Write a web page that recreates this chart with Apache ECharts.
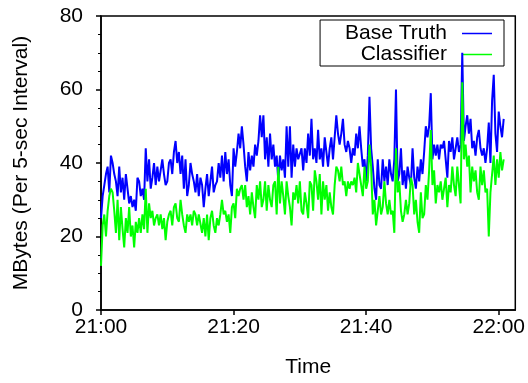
<!DOCTYPE html>
<html><head><meta charset="utf-8">
<script src="https://cdn.jsdelivr.net/npm/echarts@6/dist/echarts.min.js"></script>
<style>html,body{margin:0;padding:0;background:#fff}#c{width:528px;height:383px}</style>
</head><body><div id="c"></div>
<script>
// time axis: minutes after 21:00, one sample every 15 s
const stepMinutes = 0.25;
const xTickMinutes = [0, 20, 40, 60];
const xTickLabels = ['21:00', '21:20', '21:40', '22:00'];
const seriesNames = ['Base Truth', 'Classifier'];

const baseTruth = [
25,31,34,37,39,32,42,40,37,35,
31,39,32,36,30,37,33,29,31,28,
30,27,36,35,31,33,30,44,35,41,
33,36,40,34,39,35,38,41,37,34,
35,40,41,37,43,46,40,43,37,42,
33,41,31,34,40,37,35,32,37,31,
36,34,28,33,37,31,35,39,32,34,
35,40,36,42,35,43,37,41,34,31,
44,39,43,48,44,50,45,39,35,43,
38,42,39,45,42,46,53,47,53,41,
47,39,48,41,45,39,42,35,42,38,
41,36,50,39,50,36,45,39,44,41,
41,44,38,44,40,48,42,52,41,44,
40,49,41,44,39,47,43,39,44,47,
41,47,53,48,45,48,52,45,43,46,
44,40,44,42,48,44,50,44,39,41,
35,42,58,44,39,33,30,41,34,33,
41,35,39,34,41,37,35,41,60,35,
37,44,34,38,33,39,36,34,44,36,
33,39,35,41,37,43,50,47,50,59,
41,45,42,45,41,45,44,46,41,36,
46,43,47,41,44,47,43,45,70,46,
50,53,48,52,44,46,42,47,49,44,
42,44,40,44,51,40,57,64,48,43,
54,50,47,52
];

const classifier = [
12,23,26,20,27,31,33,32,27,21,
30,19,28,22,17,25,21,28,20,23,
17,24,21,25,21,26,22,33,21,29,
25,27,23,25,26,23,26,22,25,19,
24,26,27,23,28,29,25,24,30,26,
23,21,26,24,26,23,27,26,23,26,
26,21,25,20,26,19,25,27,23,21,
25,23,26,30,26,27,24,26,21,28,
29,25,33,31,33,34,30,34,28,31,
26,32,28,25,34,30,35,28,30,35,
27,34,30,28,34,35,26,39,29,35,
31,26,35,31,28,23,32,30,34,29,
35,27,26,32,29,25,35,34,27,38,
35,30,37,26,35,30,34,27,32,28,
26,34,39,38,35,39,34,35,31,35,
33,35,34,36,32,40,37,34,31,39,
33,35,45,39,26,30,23,27,31,26,
28,35,29,26,30,26,27,21,44,32,
35,27,24,26,30,26,29,36,34,26,
30,24,21,32,25,26,34,30,38,49,
34,38,29,34,32,35,30,33,36,28,
34,32,39,34,31,39,34,29,62,41,
45,39,42,32,39,35,38,32,30,39,
34,38,32,33,20,32,37,42,34,41,
36,43,38,41
];

function toPairs(arr) { return arr.map((v, i) => [i * stepMinutes, v]); }

const font = '"Liberation Sans", Arial, Helvetica, sans-serif';
const txt = { fontSize: 21, fontFamily: font, color: '#000' };
const chart = echarts.init(document.getElementById('c'), null, { renderer: 'canvas' });
chart.setOption({
  animation: false,
  backgroundColor: '#fff',
  grid: { left: 101, right: 10, top: 16, bottom: 72, show: true, borderColor: '#000', borderWidth: 1.5, backgroundColor: 'transparent' },
  legend: {
    orient: 'vertical', align: 'right', right: 24, top: 20, z: 1,
    icon: 'rect', itemWidth: 30, itemHeight: 1.5, itemGap: 0,
    padding: [3, 12, 1, 25], borderColor: '#000', borderWidth: 1, backgroundColor: 'transparent',
    textStyle: Object.assign({}, txt, { lineHeight: 20, padding: [0, 10, 0, 0] }),
    data: seriesNames, selectedMode: false
  },
  xAxis: {
    type: 'value', min: 0, max: 62.5, interval: 20,
    name: 'Time', nameLocation: 'middle', nameGap: 47, nameTextStyle: txt,
    axisLine: { show: true, lineStyle: { color: '#000', width: 1.5 } },
    axisTick: { show: true, length: 5, lineStyle: { color: '#000', width: 1.5 }, customValues: xTickMinutes },
    axisLabel: Object.assign({}, txt, { customValues: xTickMinutes, margin: 7,
      formatter: v => { const k = xTickMinutes.indexOf(v); return k >= 0 ? xTickLabels[k] : ''; } }),
    splitLine: { show: false }
  },
  yAxis: {
    type: 'value', min: 0, max: 80, interval: 20,
    name: 'MBytes (Per 5-sec Interval)', nameLocation: 'middle', nameGap: 69, nameTextStyle: txt,
    axisLine: { show: true, lineStyle: { color: '#000', width: 1.5 } },
    axisTick: { show: true, length: 5, lineStyle: { color: '#000', width: 1.5 } },
    minorTick: { show: true, splitNumber: 4, length: 3, lineStyle: { color: '#000', width: 1 } },
    axisLabel: Object.assign({}, txt, { margin: 18 }),
    splitLine: { show: false }
  },
  series: [
    { type: 'line', name: seriesNames[0], data: toPairs(baseTruth), symbol: 'none', showSymbol: false,
      lineStyle: { color: '#0000ff', width: 2 }, itemStyle: { color: '#0000ff' }, z: 3 },
    { type: 'line', name: seriesNames[1], data: toPairs(classifier), symbol: 'none', showSymbol: false,
      lineStyle: { color: '#00ff00', width: 2 }, itemStyle: { color: '#00ff00' }, z: 4 }
  ]
});
</script>
</body></html>
